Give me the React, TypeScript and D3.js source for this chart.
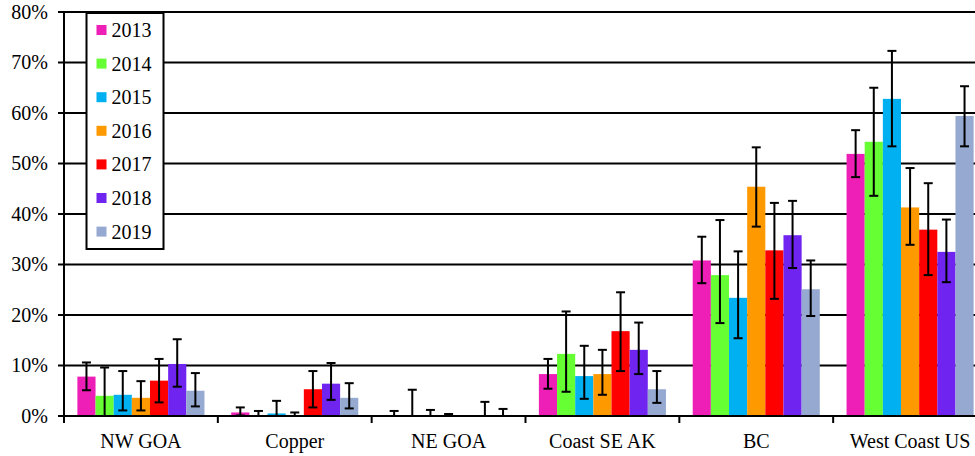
import React from "react";
import * as d3 from "d3";

const categories = ["NW GOA", "Copper", "NE GOA", "Coast SE AK", "BC", "West Coast US"];
const years = ["2013", "2014", "2015", "2016", "2017", "2018", "2019"];
const colors = ["#EE1FB6", "#66FF33", "#00B0F0", "#FF9900", "#FF0000", "#7024F0", "#95A9D1"];
const yTicks = [0, 10, 20, 30, 40, 50, 60, 70, 80];

// mean percentages per year, one value per category
const mean2013 = [7.8, 0.7, 0, 8.3, 30.8, 51.9];
const mean2014 = [4.0, 0, 0.2, 12.3, 27.9, 54.3];
const mean2015 = [4.2, 0.5, 0, 7.9, 23.4, 62.8];
const mean2016 = [3.6, 0, 0, 8.3, 45.4, 41.3];
const mean2017 = [7.0, 5.3, 0, 16.8, 32.8, 36.9];
const mean2018 = [10.3, 6.4, 0, 13.1, 35.8, 32.5];
const mean2019 = [5.0, 3.6, 0, 5.3, 25.1, 59.4];

// lower error bound
const low2013 = [5.1, 0.1, 0, 5.4, 26.3, 47.3];
const low2014 = [0, 0, 0, 4.8, 18.4, 43.6];
const low2015 = [1.1, 0, 0, 3.4, 15.4, 53.4];
const low2016 = [1.1, 0, 0, 4.2, 37.5, 33.9];
const low2017 = [2.7, 1.7, 0, 8.9, 23.2, 27.9];
const low2018 = [5.8, 3.2, 0, 8.3, 29.3, 26.5];
const low2019 = [1.9, 1.5, 0, 2.6, 19.8, 53.4];

// upper error bound
const high2013 = [10.6, 1.7, 1.0, 11.3, 35.5, 56.6];
const high2014 = [9.6, 1.0, 5.2, 20.7, 38.8, 65.0];
const high2015 = [8.9, 3.0, 1.2, 13.9, 32.6, 72.3];
const high2016 = [6.9, 0.7, 0.4, 13.1, 53.2, 49.1];
const high2017 = [11.3, 8.9, 0, 24.5, 42.2, 46.1];
const high2018 = [15.2, 10.5, 2.8, 18.5, 42.6, 38.9];
const high2019 = [8.5, 6.5, 1.4, 8.9, 30.8, 65.3];

const means = [mean2013, mean2014, mean2015, mean2016, mean2017, mean2018, mean2019];
const lows = [low2013, low2014, low2015, low2016, low2017, low2018, low2019];
const highs = [high2013, high2014, high2015, high2016, high2017, high2018, high2019];

const W = 975;
const H = 456;
const left = 64;
const right = 987;
const top = 12;
const bottom = 416;
const font = "'Liberation Serif', 'Times New Roman', serif";

export default function App() {
  const x = d3.scaleBand<string>().domain(categories).range([left, right]).paddingInner(0.174).paddingOuter(0.087);
  const xi = d3.scaleBand<string>().domain(years).range([0, x.bandwidth()]).padding(0);
  const y = d3.scaleLinear().domain([0, 80]).range([bottom, top]);
  const step = x.step();

  return (
    <svg width={W} height={H} style={{ position: "absolute", left: 0, top: 0, background: "#fff" }}>
      {/* gridlines */}
      {yTicks.map((t) => (
        <line key={"g" + t} x1={left} x2={W} y1={y(t)} y2={y(t)} stroke="#000" strokeWidth={2} />
      ))}
      {/* bars */}
      {years.map((yr, si) =>
        categories.map((c, ci) => {
          const v = means[si][ci];
          if (v <= 0) return null;
          const bx = (x(c) as number) + (xi(yr) as number);
          return (
            <rect key={yr + c} x={bx} y={y(v)} width={xi.bandwidth()} height={y(0) - y(v)} fill={colors[si]} />
          );
        })
      )}
      {/* error bars */}
      {years.map((yr, si) =>
        categories.map((c, ci) => {
          const lo = lows[si][ci];
          const hi = highs[si][ci];
          if (hi - lo <= 0) return null;
          const cx = (x(c) as number) + (xi(yr) as number) + xi.bandwidth() / 2;
          const cw = 4.5;
          return (
            <g key={"e" + yr + c} stroke="#000" strokeWidth={2}>
              <line x1={cx} x2={cx} y1={y(lo)} y2={y(hi)} />
              <line x1={cx - cw} x2={cx + cw} y1={y(hi)} y2={y(hi)} />
              <line x1={cx - cw} x2={cx + cw} y1={y(lo)} y2={y(lo)} />
            </g>
          );
        })
      )}
      {/* y axis */}
      <line x1={left} x2={left} y1={top - 1} y2={bottom + 1} stroke="#000" strokeWidth={2} />
      {yTicks.map((t) => (
        <g key={"t" + t}>
          <line x1={left - 6} x2={left} y1={y(t)} y2={y(t)} stroke="#000" strokeWidth={2} />
          <text x={48} y={y(t) + 6.5} textAnchor="end" fontFamily={font} fontSize={20} fill="#000">
            {t + "%"}
          </text>
        </g>
      ))}
      {/* x axis */}
      <line x1={left} x2={W} y1={bottom} y2={bottom} stroke="#000" strokeWidth={2} />
      {d3.range(categories.length + 1).map((i) => {
        const bx = left + i * step;
        return <line key={"xt" + i} x1={bx} x2={bx} y1={bottom} y2={bottom + 7} stroke="#000" strokeWidth={2} />;
      })}
      {categories.map((c) => (
        <text key={"xl" + c} x={(x(c) as number) + x.bandwidth() / 2} y={448} textAnchor="middle" fontFamily={font} fontSize={20} fill="#000">
          {c}
        </text>
      ))}
      {/* legend */}
      <rect x={86.5} y={13} width={77} height={236} fill="#fff" stroke="#000" strokeWidth={2} />
      {years.map((yr, i) => {
        const cy = 30 + i * 33.6;
        return (
          <g key={"l" + yr}>
            <rect x={96.5} y={cy - 5} width={10} height={10} fill={colors[i]} />
            <text x={111.5} y={cy + 7} fontFamily={font} fontSize={20} fill="#000">
              {yr}
            </text>
          </g>
        );
      })}
    </svg>
  );
}
